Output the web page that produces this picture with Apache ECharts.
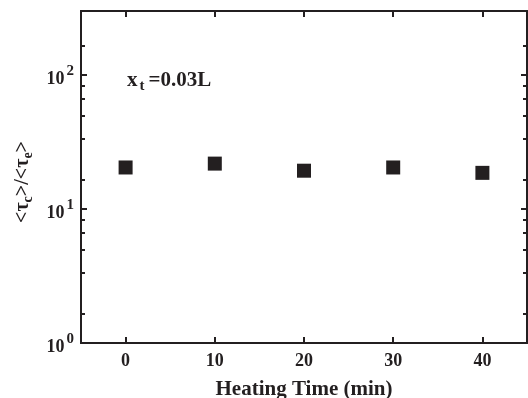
<!DOCTYPE html>
<html>
<head>
<meta charset="utf-8">
<script src="https://cdn.jsdelivr.net/npm/echarts@6/dist/echarts.min.js"></script>
<style>
  html, body { margin: 0; padding: 0; background: #fff; }
  #chart { width: 528px; height: 398px; }
</style>
</head>
<body>
<div id="chart"></div>
<script>
// heating time (min) and ratio <tau_c>/<tau_e>
const heatingTime = [0, 10, 20, 30, 40];
const tauRatio = [20.4, 21.8, 19.3, 20.4, 18.6];

const xTicks = [0, 10, 20, 30, 40];
const yMajorTicks = [1, 10, 100];
const yMinorTicks = [1.66, 3.35, 5.0, 6.6, 8.3, 16.6, 33.5, 50, 66, 83, 166];

const ink = '#231f20';
const serif = 'Liberation Serif, Times New Roman, serif';

const chart = echarts.init(document.getElementById('chart'));

const frameLine = { show: true, onZero: false, lineStyle: { color: ink, width: 2 } };

function yAxisDef(pos, ticks, len, labels) {
  return {
    type: 'log',
    logBase: 10,
    min: 1,
    max: 300,
    position: pos,
    axisLine: frameLine,
    axisTick: {
      show: true, inside: true, length: len,
      customValues: ticks,
      lineStyle: { color: ink, width: 2 }
    },
    axisLabel: labels ? {
      show: true,
      customValues: yMajorTicks,
      margin: 7,
      formatter: (v) => '{b|10}{s|' + Math.round(Math.log10(v)) + '}',
      rich: {
        b: { fontFamily: serif, fontSize: 18, fontWeight: 'bold', color: ink, padding: [8, 0, 0, 0] },
        s: { fontFamily: serif, fontSize: 15, fontWeight: 'bold', color: ink, padding: [0, 0, 8, 2] }
      }
    } : { show: false },
    splitLine: { show: false }
  };
}

const yAxes = [
  Object.assign(yAxisDef('left', yMajorTicks, 6, true), {
    name: '<τ{sub|c}>/<τ{sub|e}>',
    nameLocation: 'middle',
    nameGap: 46,
    nameRotate: 90,
    nameTextStyle: {
      fontFamily: serif, fontSize: 20, fontWeight: 'bold', color: ink,
      padding: [0, 10, 0, 0],
      rich: {
        sub: { fontFamily: serif, fontSize: 14, fontWeight: 'bold', color: ink, padding: [10, 0, 0, 0] }
      }
    }
  }),
  yAxisDef('left', yMinorTicks, 4, false),
  yAxisDef('right', yMajorTicks, 6, false),
  yAxisDef('right', yMinorTicks, 4, false)
];

const option = {
  backgroundColor: '#fff',
  animation: false,
  grid: { left: 81, right: 1, top: 11, bottom: 55, containLabel: false, outerBoundsMode: 'none' },
  xAxis: [
    {
      type: 'value',
      min: -5,
      max: 45,
      position: 'bottom',
      axisLine: frameLine,
      axisTick: { show: true, inside: true, length: 6, customValues: xTicks, lineStyle: { color: ink, width: 2 } },
      axisLabel: {
        customValues: xTicks,
        margin: 9,
        fontFamily: serif, fontSize: 18, fontWeight: 'bold', color: ink
      },
      splitLine: { show: false },
      name: 'Heating Time (min)',
      nameLocation: 'middle',
      nameGap: 36,
      nameTextStyle: { fontFamily: serif, fontSize: 21, fontWeight: 'bold', color: ink }
    },
    {
      type: 'value',
      min: -5,
      max: 45,
      position: 'top',
      axisLine: frameLine,
      axisTick: { show: true, inside: true, length: 6, customValues: xTicks, lineStyle: { color: ink, width: 2 } },
      axisLabel: { show: false },
      splitLine: { show: false }
    }
  ],
  yAxis: yAxes,
  series: [
    {
      type: 'scatter',
      xAxisIndex: 0,
      yAxisIndex: 0,
      symbol: 'rect',
      symbolSize: 14,
      itemStyle: { color: ink, opacity: 1 },
      data: heatingTime.map((t, i) => [t, tauRatio[i]])
    }
  ],
  graphic: [
    {
      type: 'text',
      left: 127,
      top: 70,
      style: {
        text: '{a|x}{t|t}{a|=0.03L}',
        rich: {
          a: { fontFamily: serif, fontSize: 21, fontWeight: 'bold', fill: ink },
          t: { fontFamily: serif, fontSize: 15, fontWeight: 'bold', fill: ink, padding: [11, 4, 0, 2] }
        }
      }
    }
  ]
};

chart.setOption(option);
</script>
</body>
</html>
